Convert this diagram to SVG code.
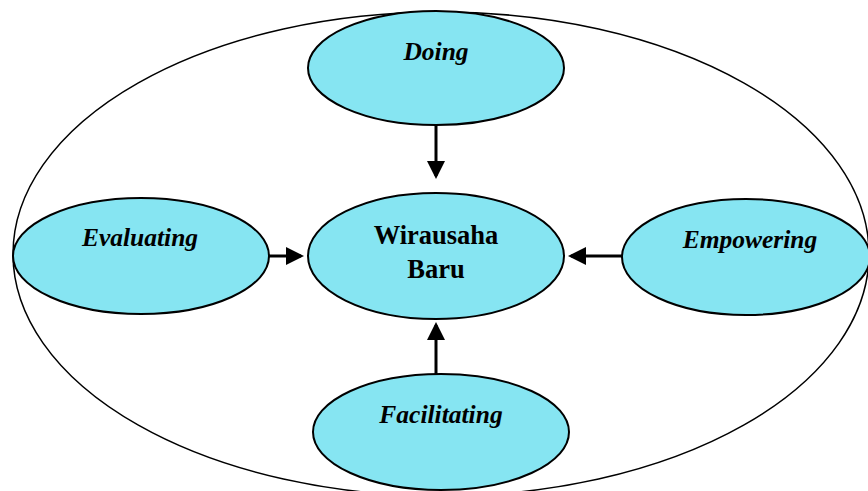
<svg xmlns="http://www.w3.org/2000/svg" width="868" height="491" viewBox="0 0 868 491">
<style>
.n{fill:#86e5f2;stroke:#000;stroke-width:2}
.t{font-family:"Liberation Serif",serif;font-size:25.5px;font-weight:bold;font-style:italic;text-anchor:middle}
.c{font-family:"Liberation Serif",serif;font-size:26.5px;font-weight:bold;text-anchor:middle}
.e{stroke:#000;stroke-width:3;fill:none}
</style>
<defs>
<marker id="a" markerWidth="6" markerHeight="6" refX="5" refY="3" orient="auto" markerUnits="strokeWidth"><path d="M0,0 L6,3 L0,6 z" fill="#000"/></marker>
</defs>
<rect width="868" height="491" fill="#fff"/>
<ellipse id="outer" cx="441" cy="254" rx="428" ry="242" fill="none" stroke="#000" stroke-width="1.5"/>
<g id="doing"><ellipse class="n" cx="436" cy="68" rx="128" ry="57"/><text class="t" x="436" y="60">Doing</text></g>
<g id="wirausaha"><ellipse class="n" cx="436" cy="256" rx="128" ry="63"/><text class="c" x="436" y="244">Wirausaha</text><text class="c" x="436" y="278">Baru</text></g>
<g id="evaluating"><ellipse class="n" cx="141" cy="256" rx="128" ry="58"/><text class="t" x="140" y="246">Evaluating</text></g>
<g id="empowering"><ellipse class="n" cx="746" cy="257" rx="124" ry="58"/><text class="t" x="750" y="248">Empowering</text></g>
<g id="facilitating"><ellipse class="n" cx="441" cy="432" rx="128" ry="58"/><text class="t" x="441" y="423">Facilitating</text></g>
<g id="connectors">
<line class="e" x1="436" y1="125" x2="436" y2="176" marker-end="url(#a)"/>
<line class="e" x1="269" y1="256" x2="301" y2="256" marker-end="url(#a)"/>
<line class="e" x1="622" y1="256" x2="571" y2="256" marker-end="url(#a)"/>
<line class="e" x1="436" y1="374" x2="436" y2="325" marker-end="url(#a)"/>
</g>
</svg>
